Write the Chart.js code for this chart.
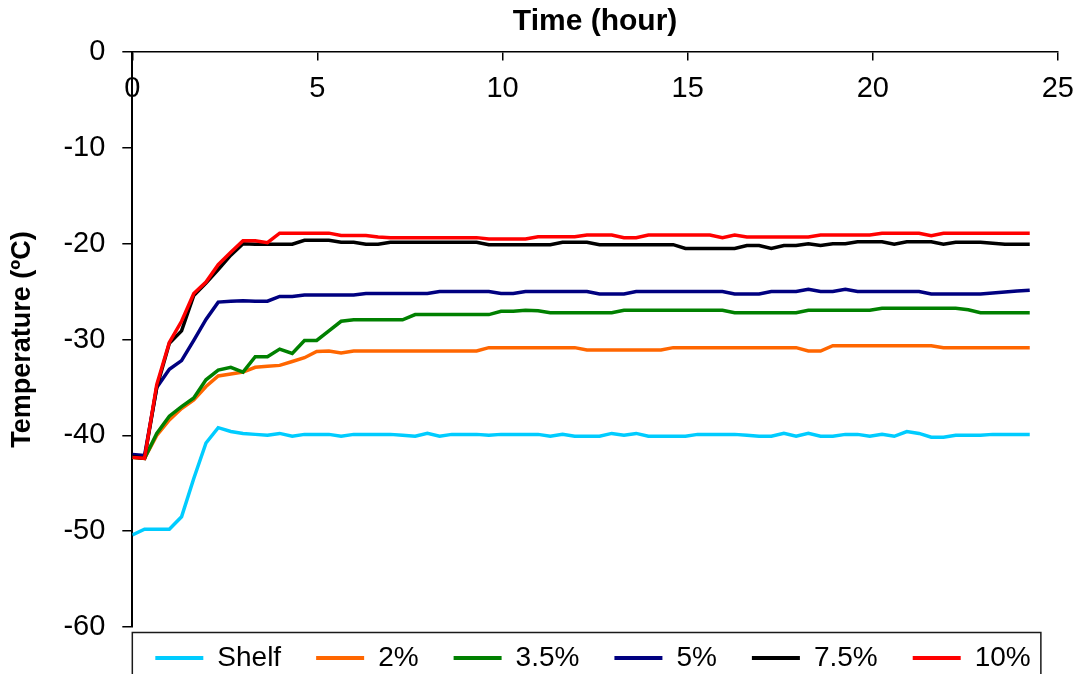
<!DOCTYPE html>
<html>
<head>
<meta charset="utf-8">
<script src="https://cdn.jsdelivr.net/npm/chart.js@4.4.1/dist/chart.umd.min.js"></script>
<style>
  html, body { margin: 0; padding: 0; background: #ffffff; }
  #wrap { width: 1086px; height: 674px; position: relative; }
</style>
</head>
<body>
<div id="wrap"><canvas id="c" width="1086" height="674"></canvas></div>
<script>
// ---- data ----
const timeHours = [0,0.33,0.66,1.00,1.33,1.66,1.99,2.32,2.66,2.99,3.32,3.65,3.98,4.32,4.65,4.98,5.31,5.64,5.98,6.31,6.64,6.97,7.30,7.64,7.97,8.30,8.63,8.96,9.30,9.63,9.96,10.29,10.62,10.96,11.29,11.62,11.95,12.28,12.62,12.95,13.28,13.61,13.94,14.28,14.61,14.94,15.27,15.60,15.94,16.27,16.60,16.93,17.26,17.60,17.93,18.26,18.59,18.92,19.26,19.59,19.92,20.25,20.58,20.92,21.25,21.58,21.91,22.24,22.58,22.91,23.24,23.57,23.90,24.24];

const seriesNames = ["Shelf", "2%", "3.5%", "5%", "7.5%", "10%"];

const shelf = [-50.4,-49.8,-49.8,-49.8,-48.5,-44.5,-40.8,-39.2,-39.6,-39.8,-39.9,-40.0,-39.8,-40.1,-39.9,-39.9,-39.9,-40.1,-39.9,-39.9,-39.9,-39.9,-40.0,-40.1,-39.8,-40.1,-39.9,-39.9,-39.9,-40.0,-39.9,-39.9,-39.9,-39.9,-40.1,-39.9,-40.1,-40.1,-40.1,-39.8,-40.0,-39.8,-40.1,-40.1,-40.1,-40.1,-39.9,-39.9,-39.9,-39.9,-40.0,-40.1,-40.1,-39.8,-40.1,-39.8,-40.1,-40.1,-39.9,-39.9,-40.1,-39.9,-40.1,-39.6,-39.8,-40.2,-40.2,-40.0,-40.0,-40.0,-39.9,-39.9,-39.9,-39.9];

const pct2 = [-42.3,-42.4,-40.0,-38.4,-37.2,-36.3,-34.9,-33.8,-33.6,-33.4,-32.9,-32.8,-32.7,-32.3,-31.9,-31.25,-31.2,-31.4,-31.2,-31.2,-31.2,-31.2,-31.2,-31.2,-31.2,-31.2,-31.2,-31.2,-31.2,-30.85,-30.85,-30.85,-30.85,-30.85,-30.85,-30.85,-30.85,-31.1,-31.1,-31.1,-31.1,-31.1,-31.1,-31.1,-30.85,-30.85,-30.85,-30.85,-30.85,-30.85,-30.85,-30.85,-30.85,-30.85,-30.85,-31.2,-31.2,-30.65,-30.65,-30.65,-30.65,-30.65,-30.65,-30.65,-30.65,-30.65,-30.85,-30.85,-30.85,-30.85,-30.85,-30.85,-30.85,-30.85];

const pct35 = [-42.3,-42.4,-39.8,-38.0,-37.0,-36.1,-34.2,-33.2,-32.9,-33.4,-31.8,-31.8,-31.0,-31.45,-30.1,-30.1,-29.1,-28.1,-27.95,-27.95,-27.95,-27.95,-27.95,-27.4,-27.4,-27.4,-27.4,-27.4,-27.4,-27.4,-27.05,-27.05,-26.95,-27.0,-27.2,-27.2,-27.2,-27.2,-27.2,-27.2,-26.95,-26.95,-26.95,-26.95,-26.95,-26.95,-26.95,-26.95,-26.95,-27.2,-27.2,-27.2,-27.2,-27.2,-27.2,-26.95,-26.95,-26.95,-26.95,-26.95,-26.95,-26.75,-26.75,-26.75,-26.75,-26.75,-26.75,-26.75,-26.9,-27.2,-27.2,-27.2,-27.2,-27.2];

const pct5 = [-42.0,-42.1,-35.0,-33.1,-32.2,-30.1,-27.9,-26.1,-26.0,-25.95,-26.0,-26.0,-25.5,-25.5,-25.35,-25.35,-25.35,-25.35,-25.35,-25.2,-25.2,-25.2,-25.2,-25.2,-25.2,-25.0,-25.0,-25.0,-25.0,-25.0,-25.2,-25.2,-25.0,-25.0,-25.0,-25.0,-25.0,-25.0,-25.25,-25.25,-25.25,-25.0,-25.0,-25.0,-25.0,-25.0,-25.0,-25.0,-25.0,-25.25,-25.25,-25.25,-25.0,-25.0,-25.0,-24.75,-25.0,-25.0,-24.75,-25.0,-25.0,-25.0,-25.0,-25.0,-25.0,-25.25,-25.25,-25.25,-25.25,-25.25,-25.15,-25.05,-24.95,-24.85];

const pct75 = [-42.2,-42.4,-35.0,-30.4,-29.1,-25.4,-24.1,-22.7,-21.2,-20.0,-20.05,-20.05,-20.05,-20.05,-19.65,-19.65,-19.65,-19.85,-19.85,-20.05,-20.05,-19.85,-19.85,-19.85,-19.85,-19.85,-19.85,-19.85,-19.85,-20.1,-20.1,-20.1,-20.1,-20.1,-20.1,-19.85,-19.85,-19.85,-20.1,-20.1,-20.1,-20.1,-20.1,-20.1,-20.1,-20.5,-20.5,-20.5,-20.5,-20.5,-20.2,-20.2,-20.5,-20.2,-20.2,-20.0,-20.2,-20.0,-20.0,-19.8,-19.8,-19.8,-20.05,-19.8,-19.8,-19.8,-20.05,-19.85,-19.85,-19.85,-19.95,-20.05,-20.05,-20.05];

const pct10 = [-42.3,-42.4,-34.7,-30.3,-28.1,-25.2,-24.0,-22.2,-20.9,-19.7,-19.7,-19.9,-18.9,-18.9,-18.9,-18.9,-18.9,-19.15,-19.15,-19.15,-19.3,-19.37,-19.37,-19.37,-19.37,-19.37,-19.37,-19.37,-19.37,-19.5,-19.5,-19.5,-19.5,-19.27,-19.27,-19.27,-19.27,-19.1,-19.1,-19.1,-19.37,-19.37,-19.1,-19.1,-19.1,-19.1,-19.1,-19.1,-19.37,-19.1,-19.3,-19.3,-19.3,-19.3,-19.3,-19.3,-19.1,-19.1,-19.1,-19.1,-19.1,-18.92,-18.92,-18.92,-18.92,-19.16,-18.92,-18.92,-18.92,-18.92,-18.92,-18.92,-18.92,-18.92];

const xTickValues = [0, 5, 10, 15, 20, 25];
const yTickValues = [0, -10, -20, -30, -40, -50, -60];

// ---- styling ----
const seriesColors = ["#00CCFF", "#FF6600", "#008000", "#000080", "#000000", "#FF0000"];
const seriesValues = [shelf, pct2, pct35, pct5, pct75, pct10];
const FONT = "'Liberation Sans', Arial, Helvetica, sans-serif";

const datasets = seriesValues.map((vals, k) => ({
  label: seriesNames[k],
  data: vals.map((v, i) => ({ x: timeHours[i], y: v })),
  borderColor: seriesColors[k],
  backgroundColor: seriesColors[k],
  borderWidth: 3.5,
  pointRadius: 0,
  pointHoverRadius: 0,
  tension: 0,
  fill: false,
  order: seriesValues.length - k
}));

const legendPlacer = {
  id: 'legendPlacer',
  afterLayout(chart) {
    const lg = chart.legend;
    if (!lg) return;
    const P = lg.options.labels.padding;
    const dx = (chart.chartArea.left + 23) - (lg.left + P);
    lg.left += dx; lg.right += dx;
    const fs = lg.options.labels.font.size;
    const dy = (chart.chartArea.bottom + 31) - (lg.top + P + fs / 2);
    lg.top += dy;
    lg.bottom = chart.height + 20;
  }
};

const legendFrame = {
  id: 'legendFrame',
  afterDraw(chart) {
    const ctx = chart.ctx;
    const a = chart.chartArea;
    ctx.save();
    ctx.strokeStyle = '#1a1a1a';
    ctx.lineWidth = 1.5;
    ctx.beginPath();
    ctx.rect(a.left, a.bottom + 5.5, (a.right - 17) - a.left, chart.height);
    ctx.stroke();
    ctx.restore();
  }
};

new Chart(document.getElementById('c'), {
  type: 'line',
  data: { datasets },
  plugins: [legendPlacer, legendFrame],
  options: {
    responsive: false,
    devicePixelRatio: 1,
    animation: false,
    layout: { padding: { left: 0, right: 24, top: 0, bottom: 0 } },
    plugins: {
      tooltip: { enabled: false },
      title: {
        display: true,
        text: 'Time (hour)',
        fullSize: false,
        color: '#000',
        font: { family: FONT, size: 30, weight: 'bold' },
        padding: { top: 4, bottom: 12 }
      },
      legend: {
        display: true,
        position: 'bottom',
        align: 'start',
        fullSize: true,
        maxHeight: 47,
        labels: {
          color: '#000',
          font: { family: FONT, size: 28 },
          boxWidth: 48,
          boxHeight: 4,
          padding: 35,
          sort: (a, b) => a.datasetIndex - b.datasetIndex,
          generateLabels(chart) {
            const items = Chart.defaults.plugins.legend.labels.generateLabels(chart);
            items.forEach(it => { it.lineWidth = 0; it.fillStyle = it.strokeStyle; });
            return items;
          }
        }
      }
    },
    scales: {
      x: {
        type: 'linear',
        position: { y: 0 },
        min: 0,
        max: 25,
        afterBuildTicks(scale) { scale.ticks = xTickValues.map(v => ({ value: v })); },
        grid: { drawOnChartArea: false, drawTicks: true, tickLength: 8, color: '#000', lineWidth: 1.5 },
        border: { display: true, color: '#000', width: 1.5 },
        ticks: { color: '#000', font: { family: FONT, size: 29 }, padding: 12, maxRotation: 0, autoSkip: false }
      },
      y: {
        type: 'linear',
        position: 'left',
        min: -60,
        max: 0,
        afterBuildTicks(scale) { scale.ticks = yTickValues.slice().reverse().map(v => ({ value: v })); },
        grid: { drawOnChartArea: false, drawTicks: true, tickLength: 10, color: '#000', lineWidth: 1.5 },
        border: { display: true, color: '#000', width: 2 },
        ticks: { color: '#000', font: { family: FONT, size: 29 }, padding: 17, autoSkip: false },
        title: {
          display: true,
          text: 'Temperature (ºC)',
          color: '#000',
          font: { family: FONT, size: 27, weight: 'bold' },
          padding: { top: 6, bottom: 8 }
        }
      }
    }
  }
});
</script>
</body>
</html>
